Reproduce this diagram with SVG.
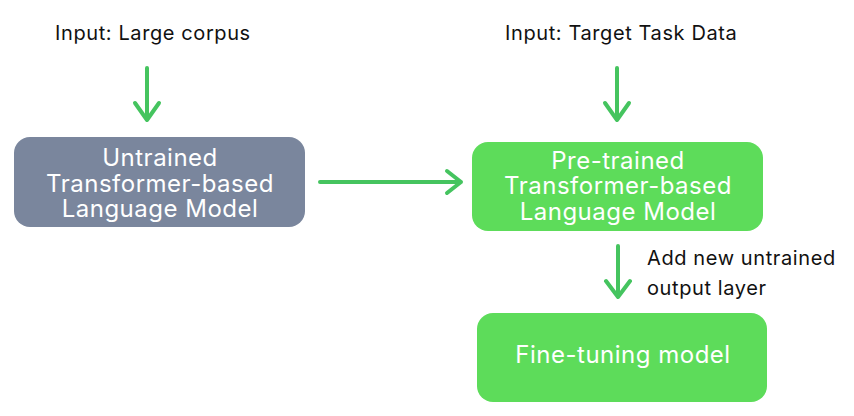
<svg xmlns="http://www.w3.org/2000/svg" width="854" height="416" viewBox="0 0 854 416">
<style>
.lbl{font-family:Inter,"DejaVu Sans",sans-serif;font-size:20px;letter-spacing:0.6px;fill:#111}
.box{font-family:Inter,"DejaVu Sans",sans-serif;font-size:24px;letter-spacing:0.5px;fill:#fff;text-anchor:middle}
.arr{stroke:#45c45f;stroke-width:4;fill:none;stroke-linecap:round;stroke-linejoin:round}
</style>
<rect width="854" height="416" fill="#fff"/>
<g id="label-input1"><text class="lbl" x="55" y="40">Input: Large corpus</text></g>
<g id="label-input2"><text class="lbl" x="505" y="40">Input: Target Task Data</text></g>
<g id="node-untrained">
<rect x="14" y="137" width="291" height="90" rx="16" fill="#7a869d"/>
<text class="box" x="160" y="166">Untrained</text>
<text class="box" x="160" y="192">Transformer-based</text>
<text class="box" x="160" y="217">Language Model</text>
</g>
<g id="node-pretrained">
<rect x="472" y="142" width="291" height="89" rx="16" fill="#5ddc5a"/>
<text class="box" x="618" y="169">Pre-trained</text>
<text class="box" x="618" y="194">Transformer-based</text>
<text class="box" x="618" y="220">Language Model</text>
</g>
<g id="node-finetune">
<rect x="477" y="313" width="290" height="89" rx="16" fill="#5ddc5a"/>
<text class="box" x="623" y="363">Fine-tuning model</text>
</g>
<g id="label-add">
<text class="lbl" x="647" y="265">Add new untrained</text>
<text class="lbl" x="647" y="295">output layer</text>
</g>
<g id="connectors">
<path class="arr" d="M147 68V120M135 103L147 120L159 103"/>
<path class="arr" d="M617 68V120M605 103L617 120L629 103"/>
<path class="arr" d="M320 182H461M447 171L461 182L447 193"/>
<path class="arr" d="M618 246V297M606 281L618 297L630 281"/>
</g>
</svg>
